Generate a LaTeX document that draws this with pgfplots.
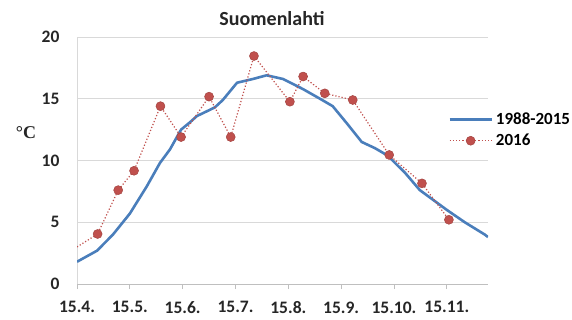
\documentclass[border=0pt]{standalone}
\usepackage{pgfplots}
\pgfplotsset{compat=1.18}
\usepackage{fontspec}
\setmainfont{Carlito}
\newfontfamily\serifC{Liberation Serif}
\definecolor{cblue}{HTML}{4A7EBB}
\definecolor{cred}{HTML}{C0504D}
\definecolor{cgrid}{HTML}{D9D9D9}
\definecolor{caxis}{HTML}{BFBFBF}
\begin{document}
\begin{tikzpicture}
\path[use as bounding box] (-77pt,-35pt) rectangle (495pt,284pt);
\begin{axis}[
  at={(0,0)}, anchor=south west,
  scale only axis, width=411pt, height=247pt,
  xmin=0, xmax=7.78, ymin=0, ymax=20,
  axis x line*=bottom, axis y line*=left,
  x axis line style={color=caxis, line width=0.8pt, -},
  y axis line style={color=cgrid, line width=0.8pt, -},
  ytick={0,5,10,15,20},
  ymajorgrids, grid style={cgrid, line width=0.8pt},
  xtick={0,1,2,3,4,5,6,7},
  xticklabels={15.4.,15.5.,15.6.,15.7.,15.8.,15.9.,15.10.,15.11.},
  tick align=outside,
  x tick style={caxis, line width=0.8pt},
  major tick length=5pt,
  y tick style={draw=none},
  /pgf/number format/assume math mode=true,
  tick label style={font=\fontsize{17.5}{20}\selectfont\bfseries, color=black!85},
  yticklabel style={xshift=-9pt},
  xticklabel style={yshift=-9pt},
  clip=true,
  legend style={at={(axis description cs:0.903,0.623)}, anchor=west, draw=none, fill=none,
    font=\fontsize{17}{20}\selectfont\bfseries, row sep=6pt, inner sep=0pt,
    nodes={inner xsep=3pt, inner ysep=1pt}},
  legend cell align=left,
  legend image code/.code={\draw[mark repeat=2,mark phase=2,#1] plot coordinates {(0pt,0pt) (21pt,0pt) (42pt,0pt)};},
]
\addplot[cblue, line width=2.6pt, line join=round, forget plot] coordinates {
(0.00,1.8) (0.38,2.7) (0.68,4.0) (1.00,5.7) (1.32,7.9) (1.57,9.8) (1.76,10.9)
(1.97,12.5) (2.14,13.1) (2.27,13.6) (2.61,14.3) (2.76,14.9) (3.03,16.3) (3.33,16.6)
(3.59,16.9) (3.90,16.6) (4.27,15.8) (4.60,15.0) (4.84,14.4) (5.11,13.0) (5.39,11.5)
(5.64,11.0) (5.88,10.4) (6.21,9.0) (6.49,7.6) (7.00,6.0) (7.34,5.0) (7.72,4.0) (7.78,3.8)
};
\addplot[cred, line width=1.2pt, dotted, forget plot] coordinates {
(0.00,3.0) (0.39,4.05) (0.78,7.6) (1.08,9.17) (1.58,14.4) (1.97,11.9) (2.50,15.17)
(2.91,11.9) (3.35,18.46) (4.03,14.76) (4.28,16.8) (4.69,15.44) (5.22,14.9)
(5.91,10.45) (6.53,8.15) (7.04,5.2)
};
\addplot[only marks, mark=*, mark size=4.5pt, mark options={fill=cred, draw=cred!85!black, line width=0.5pt}, forget plot] coordinates {
(0.39,4.05) (0.78,7.6) (1.08,9.17) (1.58,14.4) (1.97,11.9) (2.50,15.17)
(2.91,11.9) (3.35,18.46) (4.03,14.76) (4.28,16.8) (4.69,15.44) (5.22,14.9)
(5.91,10.45) (6.53,8.15) (7.04,5.2)
};
\addlegendimage{cblue, line width=2.6pt}
\addlegendentry{1988-2015}
\addlegendimage{cred, line width=1.2pt, dotted, mark=*, mark size=4.5pt, mark options={solid, fill=cred, draw=cred!85!black, line width=0.5pt}}
\addlegendentry{2016}
\end{axis}
\node[font=\fontsize{20}{24}\selectfont\bfseries, color=black!85] at (195pt,265pt) {Suomenlahti};
\node[font=\serifC\fontsize{18}{22}\selectfont\bfseries, color=black!85] at (-51pt,151pt) {°C};
\end{tikzpicture}
\end{document}
